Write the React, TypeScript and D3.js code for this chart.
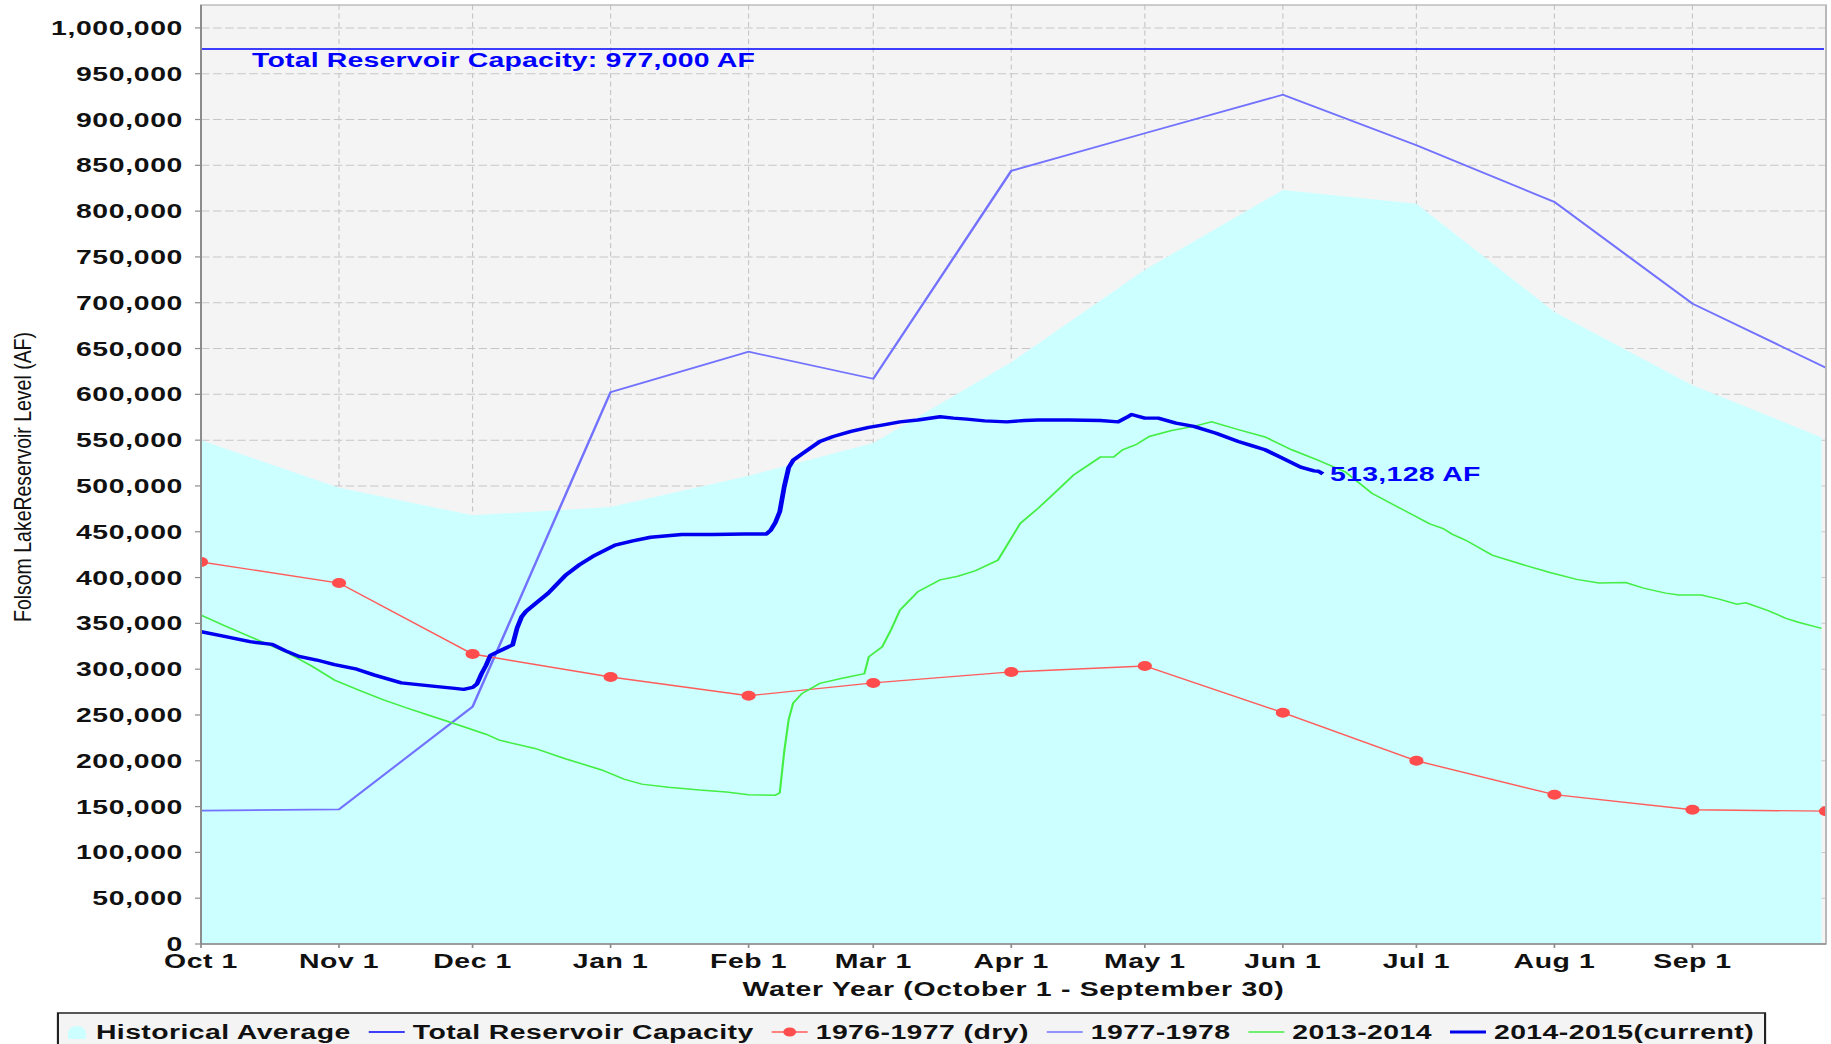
import * as d3 from 'd3';
import { useEffect, useRef } from 'react';

const WIDTH = 1831;
const HEIGHT = 1044;
// the source chart is stretched sideways, so it is drawn in a narrower
// box and scaled out to the full width (text and dots widen with it)
const STRETCH = 1.42;
const VIEW_W = WIDTH / STRETCH;
const sx = (px) => px / STRETCH;

const FONT = "'Liberation Sans', Arial, Helvetica, sans-serif";

const waterYearStart = new Date(2014, 9, 1);
const waterYearEnd = new Date(2015, 9, 1);

const monthLabels = ['Oct 1', 'Nov 1', 'Dec 1', 'Jan 1', 'Feb 1', 'Mar 1', 'Apr 1', 'May 1', 'Jun 1', 'Jul 1', 'Aug 1', 'Sep 1'];

const yTicks = [
  0, 50000, 100000, 150000, 200000, 250000, 300000, 350000, 400000, 450000, 500000,
  550000, 600000, 650000, 700000, 750000, 800000, 850000, 900000, 950000, 1000000
];

const capacity = 977000;
const capacityLabel = 'Total Reservoir Capacity: 977,000 AF';
const currentLabel = '513,128 AF';

// monthly values: Oct 1 .. Sep 1, then end of the water year
const historicalAverage = [550000, 498000, 468000, 477000, 511000, 547000, 635000, 736000, 823000, 808000, 690000, 610000, 553000];
const dry19761977 = [417000, 394000, 316500, 291500, 271000, 285000, 297000, 303500, 252500, 200000, 163000, 146500, 145000];
const year19771978 = [145500, 147000, 259000, 602500, 646500, 617000, 844000, 885000, 927000, 872000, 810000, 699000, 629000];

// daily series: [day of water year, acre-feet]
const wy20132014 = [
  [0, 359000], [5, 348000], [11, 335500], [19, 319000], [25, 303000], [30, 288000], [36, 276000],
  [41, 266500], [46, 258000], [51, 250000], [56, 242000], [60, 235500], [64, 229000], [67, 222500],
  [75, 213500], [82, 202000], [90, 190000], [95, 180000], [99, 174500], [105, 171000], [112, 168000],
  [118, 166000], [123, 163000], [129, 162500], [130, 165000], [131, 210000], [132, 245000], [133, 263000],
  [135, 273500], [139, 284500], [144, 290000], [149, 295000], [150, 313500], [153, 324500], [155, 343000],
  [157, 364500], [161, 384500], [166, 397500], [170, 401500], [174, 407500], [179, 419000], [184, 459000],
  [188, 475500], [191, 489000], [196, 512000], [202, 531500], [205, 531500], [207, 539500], [210, 545000],
  [213, 554000], [218, 560500], [223, 565000], [227, 570000], [233, 561500], [239, 553500], [245, 539500],
  [251, 528000], [257, 515500], [263, 492000], [270, 474000], [276, 458500], [279, 453500], [281, 447500],
  [284, 441000], [290, 424500], [297, 414000], [303, 405500], [309, 398000], [314, 394000], [320, 394500],
  [324, 388500], [329, 383000], [332, 381000], [337, 381000], [341, 376500], [345, 371000], [347, 372500],
  [352, 364000], [356, 355500], [359, 351000], [364, 344500]
];

const wy20142015 = [
  [0, 341000], [5, 336000], [11, 330000], [16, 327000], [19, 320000], [22, 314000], [26, 310000],
  [30, 305000], [35, 300000], [39, 293500], [45, 285000], [52, 281500], [57, 279000], [59, 278000],
  [61, 280000], [62, 284000], [63, 295000], [64, 304000], [65, 315000], [68, 322000], [70, 326500],
  [71, 345000], [72, 357000], [73, 363000], [76, 375000], [78, 383000], [82, 403000], [85, 414000],
  [88, 423000], [93, 435500], [97, 440000], [101, 444000], [108, 447000], [115, 447000], [122, 447500],
  [127, 447500], [128, 452000], [129, 460000], [130, 472000], [131, 499000], [132, 520000], [133, 528000],
  [135, 535000], [139, 548500], [142, 554000], [146, 559500], [150, 564000], [153, 566500], [157, 570000],
  [161, 572000], [166, 575500], [169, 574000], [172, 573000], [176, 571000], [181, 570000], [185, 571500],
  [188, 572000], [195, 572000], [202, 571500], [206, 570000], [208, 575000], [209, 578000], [212, 574000],
  [215, 574000], [219, 568500], [223, 565000], [228, 557500], [233, 548500], [236, 544000], [239, 539500],
  [243, 530000], [247, 520500], [250, 516500], [251, 516000], [252, 513128]
];

const legendLabels = ['Historical Average', 'Total Reservoir Capacity', '1976-1977 (dry)', '1977-1978', '2013-2014', '2014-2015(current)'];

const colors = {
  historical: '#ccffff',
  capacity: '#0000ff',
  dry: '#ff5c5c',
  dryDot: '#ff4c4c',
  wet: '#7272ff',
  prior: '#44ee44',
  current: '#0000ee'
};

export default function App() {
  const ref = useRef(null);

  useEffect(() => {
    const svg = d3.select(ref.current);
    svg.selectAll('*').remove();

    const left = sx(201);
    const right = sx(1826);
    const top = 5;
    const bottom = 944;

    const x = d3.scaleTime().domain([waterYearStart, waterYearEnd]).range([left, right]);
    const y = d3.scaleLinear().domain([0, 1025000]).range([bottom, top]);

    const months = d3.timeMonth.range(waterYearStart, waterYearEnd);
    const lastDay = d3.timeDay.offset(waterYearEnd, -1);
    const monthly = (vals, end) => vals.map((v, i) => ({ date: i < 12 ? months[i] : end, value: v }));
    const daily = (rows) => rows.map(([d, v]) => ({ date: d3.timeDay.offset(waterYearStart, d), value: v }));

    const hist = monthly(historicalAverage, lastDay);
    const dry = monthly(dry19761977, waterYearEnd);
    const wet = monthly(year19771978, waterYearEnd);
    const prior = daily(wy20132014);
    const current = daily(wy20142015);

    svg
      .append('defs')
      .append('clipPath')
      .attr('id', 'plot-clip')
      .append('rect')
      .attr('x', left)
      .attr('y', top)
      .attr('width', right - left)
      .attr('height', bottom - top);

    svg.append('rect').attr('width', VIEW_W).attr('height', HEIGHT).attr('fill', '#ffffff');
    svg
      .append('rect')
      .attr('x', left)
      .attr('y', top)
      .attr('width', right - left)
      .attr('height', bottom - top)
      .attr('fill', '#f4f4f4');

    // grid
    const grid = svg.append('g').attr('stroke', '#c6c6c6').attr('fill', 'none');
    grid
      .selectAll('.hgrid')
      .data(yTicks.filter((v) => v > 0))
      .join('line')
      .attr('class', 'hgrid')
      .attr('x1', left)
      .attr('x2', right)
      .attr('y1', (d) => y(d))
      .attr('y2', (d) => y(d))
      .attr('stroke-width', 1)
      .attr('stroke-dasharray', '6,2.5');
    grid
      .selectAll('.vgrid')
      .data(months.slice(1))
      .join('line')
      .attr('class', 'vgrid')
      .attr('x1', (d) => x(d))
      .attr('x2', (d) => x(d))
      .attr('y1', top)
      .attr('y2', bottom)
      .attr('stroke-width', 0.8)
      .attr('stroke-dasharray', '5,3.5');

    const plot = svg.append('g').attr('clip-path', 'url(#plot-clip)');

    const area = d3
      .area()
      .x((d) => x(d.date))
      .y0(y(0))
      .y1((d) => y(d.value));
    const line = d3
      .line()
      .x((d) => x(d.date))
      .y((d) => y(d.value));

    plot.append('path').datum(hist).attr('d', area).attr('fill', colors.historical);

    // capacity
    plot
      .append('line')
      .attr('x1', left)
      .attr('x2', right - sx(2))
      .attr('y1', y(capacity))
      .attr('y2', y(capacity))
      .attr('stroke', colors.capacity)
      .attr('stroke-width', 1.6);
    svg
      .append('text')
      .attr('x', sx(252))
      .attr('y', y(capacity) + 18.5)
      .attr('font-family', FONT)
      .attr('font-weight', 'bold')
      .attr('font-size', 20)
      .attr('letter-spacing', 0.15)
      .attr('fill', colors.capacity)
      .text(capacityLabel);

    plot
      .append('path')
      .datum(wet)
      .attr('d', line)
      .attr('fill', 'none')
      .attr('stroke', colors.wet)
      .attr('stroke-width', 1.8);

    plot
      .append('path')
      .datum(dry)
      .attr('d', line)
      .attr('fill', 'none')
      .attr('stroke', colors.dry)
      .attr('stroke-width', 1.4);
    plot
      .selectAll('.dry-dot')
      .data(dry)
      .join('circle')
      .attr('class', 'dry-dot')
      .attr('cx', (d) => x(d.date))
      .attr('cy', (d) => y(d.value))
      .attr('r', 5)
      .attr('fill', colors.dryDot);

    plot
      .append('path')
      .datum(prior)
      .attr('d', line)
      .attr('fill', 'none')
      .attr('stroke', colors.prior)
      .attr('stroke-width', 1.5);

    plot
      .append('path')
      .datum(current)
      .attr('d', line)
      .attr('fill', 'none')
      .attr('stroke', colors.current)
      .attr('stroke-width', 3.4)
      .attr('stroke-linejoin', 'round');

    const last = current[current.length - 1];
    svg
      .append('text')
      .attr('x', x(last.date) + sx(7))
      .attr('y', y(last.value) + 7)
      .attr('font-family', FONT)
      .attr('font-weight', 'bold')
      .attr('font-size', 20)
      .attr('letter-spacing', 0.25)
      .attr('fill', colors.capacity)
      .text(currentLabel);

    // frame and axes
    svg
      .append('rect')
      .attr('x', left)
      .attr('y', top)
      .attr('width', right - left)
      .attr('height', bottom - top)
      .attr('fill', 'none')
      .attr('stroke', '#b4b4b4')
      .attr('stroke-width', 1.3);
    svg
      .append('line')
      .attr('x1', left)
      .attr('x2', left)
      .attr('y1', top)
      .attr('y2', bottom)
      .attr('stroke', '#8c8c8c')
      .attr('stroke-width', 1.4);
    svg
      .append('line')
      .attr('x1', left)
      .attr('x2', right)
      .attr('y1', bottom)
      .attr('y2', bottom)
      .attr('stroke', '#8c8c8c')
      .attr('stroke-width', 1.5);

    const yAxis = svg
      .append('g')
      .attr('font-family', FONT)
      .attr('font-weight', 'bold')
      .attr('font-size', 20)
      .attr('letter-spacing', 0.45);
    yAxis
      .selectAll('line')
      .data(yTicks)
      .join('line')
      .attr('x1', left - sx(6))
      .attr('x2', left)
      .attr('y1', (d) => y(d))
      .attr('y2', (d) => y(d))
      .attr('stroke', '#8c8c8c')
      .attr('stroke-width', 1.2);
    yAxis
      .selectAll('text')
      .data(yTicks)
      .join('text')
      .attr('x', left - sx(18))
      .attr('y', (d) => y(d) + 7)
      .attr('text-anchor', 'end')
      .attr('fill', '#111')
      .text((d) => d3.format(',')(d));

    const xAxis = svg
      .append('g')
      .attr('font-family', FONT)
      .attr('font-weight', 'bold')
      .attr('font-size', 20)
      .attr('letter-spacing', 0.4);
    xAxis
      .selectAll('line')
      .data(months)
      .join('line')
      .attr('x1', (d) => x(d))
      .attr('x2', (d) => x(d))
      .attr('y1', bottom)
      .attr('y2', bottom + 4)
      .attr('stroke', '#8c8c8c')
      .attr('stroke-width', 1.2);
    xAxis
      .selectAll('text')
      .data(months)
      .join('text')
      .attr('x', (d) => x(d))
      .attr('y', 968)
      .attr('text-anchor', 'middle')
      .attr('fill', '#111')
      .text((d, i) => monthLabels[i]);

    svg
      .append('text')
      .attr('x', (left + right) / 2)
      .attr('y', 996)
      .attr('text-anchor', 'middle')
      .attr('font-family', FONT)
      .attr('font-weight', 'bold')
      .attr('font-size', 20)
      .attr('letter-spacing', 0.5)
      .attr('fill', '#111')
      .text('Water Year (October 1 - September 30)');

    svg
      .append('text')
      .attr('transform', `translate(${sx(22.5)},477) rotate(-90)`)
      .attr('text-anchor', 'middle')
      .attr('dominant-baseline', 'central')
      .attr('font-family', FONT)
      .attr('font-size', 16.5)
      .attr('textLength', 290)
      .attr('lengthAdjust', 'spacingAndGlyphs')
      .attr('fill', '#111')
      .text('Folsom LakeReservoir Level (AF)');

    // legend
    const legend = svg.append('g');
    const box = legend
      .append('rect')
      .attr('y', 1013)
      .attr('height', 40)
      .attr('fill', '#f4f4f4')
      .attr('stroke', '#222')
      .attr('stroke-width', 1.5);
    const items = legend.append('g');
    const lineY = 1032;
    const baseY = 1039;
    const pad = sx(10);
    const lineW = sx(36);
    const gapSwatch = sx(8);
    const gapItem = sx(18);
    const swatches = [
      { kind: 'area', color: colors.historical, width: 0 },
      { kind: 'line', color: colors.capacity, width: 1.5 },
      { kind: 'dot', color: colors.dry, width: 1.4 },
      { kind: 'line', color: colors.wet, width: 1.5 },
      { kind: 'line', color: colors.prior, width: 1.5 },
      { kind: 'line', color: colors.current, width: 3 }
    ];
    let cx = pad;
    legendLabels.forEach((label, i) => {
      const s = swatches[i];
      if (s.kind === 'area') {
        const w = sx(18);
        const b = 1039;
        items
          .append('path')
          .attr('d', `M${cx},${b} L${cx},${b - 6} A${w / 2},7 0 0 1 ${cx + w},${b - 6} L${cx + w},${b} Z`)
          .attr('fill', s.color);
        cx += w + sx(10);
      } else {
        items
          .append('line')
          .attr('x1', cx)
          .attr('x2', cx + lineW)
          .attr('y1', lineY)
          .attr('y2', lineY)
          .attr('stroke', s.color)
          .attr('stroke-width', s.width);
        if (s.kind === 'dot') {
          items
            .append('circle')
            .attr('cx', cx + lineW / 2)
            .attr('cy', lineY)
            .attr('r', 4.5)
            .attr('fill', colors.dryDot);
        }
        cx += lineW + gapSwatch;
      }
      const t = items
        .append('text')
        .attr('x', cx)
        .attr('y', baseY)
        .attr('font-family', FONT)
        .attr('font-weight', 'bold')
        .attr('font-size', 20)
        .attr('letter-spacing', 0.3)
        .attr('fill', '#111')
        .text(label);
      const w = t.node().getComputedTextLength();
      cx += w + (i < legendLabels.length - 1 ? gapItem : 0);
    });
    const total = cx + sx(11);
    const boxX = VIEW_W / 2 - total / 2 - sx(4);
    box.attr('x', boxX).attr('width', total);
    items.attr('transform', `translate(${boxX},0)`);
  }, []);

  return (
    <svg
      ref={ref}
      width={WIDTH}
      height={HEIGHT}
      viewBox={`0 0 ${VIEW_W} ${HEIGHT}`}
      preserveAspectRatio='none'
      style={{ position: 'absolute', left: 0, top: 0, display: 'block' }}
    />
  );
}
